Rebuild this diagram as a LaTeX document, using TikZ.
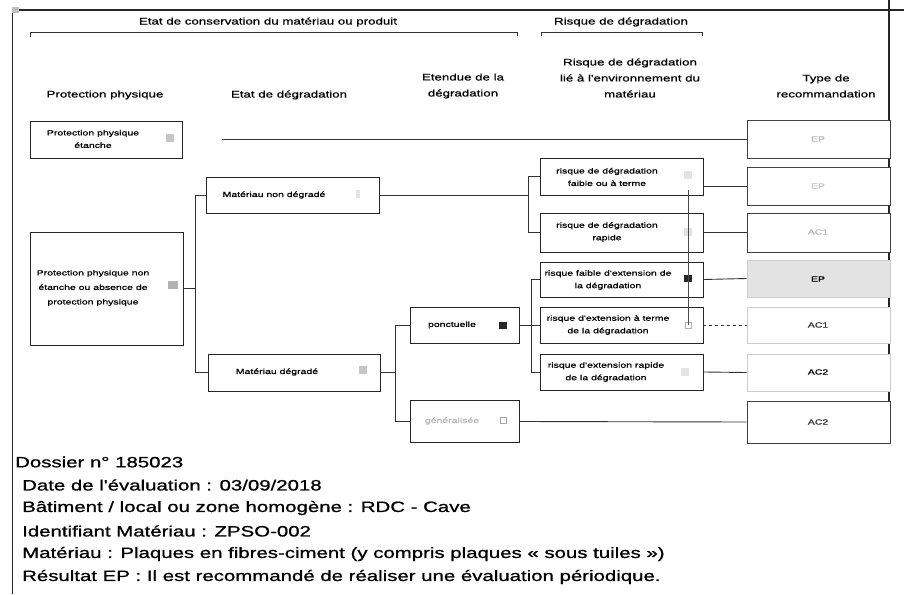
\documentclass[tikz,border=0pt]{standalone}
\usepackage{fontspec}
\setmainfont[FakeStretch=1.4]{Liberation Sans}
\newfontfamily\hfont[FakeStretch=1.4, FakeBold=0.7]{Liberation Sans}
\newfontfamily\ffont[FakeStretch=1.36, FakeBold=0.9]{Liberation Sans}
\begin{document}
\begin{tikzpicture}[x=1pt,y=-1pt,
  frame/.style={draw=black!85, line width=1.2pt},
  box/.style={draw=black!85, line width=0.9pt, inner sep=0pt, fill=white},
  recbox/.style={draw=black!75, line width=0.9pt, inner sep=0pt, fill=white, minimum width=143pt},
  txt/.style={font=\hfont\fontsize{7.5}{12.5}\selectfont, align=center, inner sep=0pt},
  rectxt/.style={font=\hfont\fontsize{7.5}{9}\selectfont, inner sep=0pt},
  hdr/.style={font=\hfont\fontsize{9.5}{16}\selectfont, align=center, inner sep=0pt},
  foot/.style={font=\ffont\fontsize{15}{18}\selectfont, anchor=west, inner sep=0pt},
  conn/.style={draw=black!80, line width=0.9pt},
  chkgrey/.style={fill=gray!45, minimum width=8pt, minimum height=8pt, inner sep=0pt},
  chklight/.style={fill=gray!22, minimum width=8pt, minimum height=8pt, inner sep=0pt},
  chkblack/.style={fill=black!85, minimum width=8pt, minimum height=7pt, inner sep=0pt},
  chkopen/.style={draw=gray!70, line width=0.7pt, minimum width=6pt, minimum height=6pt, inner sep=0pt}
]
\useasboundingbox (0,0) rectangle (904,594);
\fill[white] (0,0) rectangle (904,594);

% frame
\draw[frame] (12.5,12) -- (12.5,594);
\draw[frame] (13,10) -- (904,10);
\draw[frame] (889,0) -- (889,444);
\fill[gray!50] (12,7) rectangle (19,13);

% group headers
\node[hdr] (hcons) at (268,22) {Etat de conservation du matériau ou produit};
\node[hdr] (hrisk) at (621,22) {Risque de dégradation};
\draw[draw=black!80, line width=0.9pt] (30,37) -- (30,32) -- (517,32) -- (517,36);
\draw[draw=black!80, line width=0.9pt] (541,36) -- (541,32) -- (702,32) -- (702,36);

% column headers
\node[hdr] (c1) at (105,95) {Protection physique};
\node[hdr] (c2) at (289,95) {Etat de dégradation};
\node[hdr] (c3) at (463,86) {Etendue de la\\dégradation};
\node[hdr] (c4) at (630,78) {Risque de dégradation\\lié à l'environnement du\\matériau};
\node[hdr] (c5) at (826,86) {Type de\\recommandation};

% column 1
\node[box, minimum width=152pt, minimum height=37pt] (etanche) at (106,139.5) {};
\node[txt] (etanche-t) at (93,139) {Protection physique\\étanche};
\node[chkgrey] (etanche-m) at (170,138) {};

\node[box, minimum width=153pt, minimum height=113pt] (nonet) at (106.5,288.5) {};
\node[txt, font=\hfont\fontsize{7.5}{14.5}\selectfont] (nonet-t) at (93,288) {Protection physique non\\étanche ou absence de\\protection physique};
\node[fill=gray!60, minimum width=10pt, minimum height=8pt, inner sep=0pt] (nonet-m) at (173,285) {};

% column 2
\node[box, minimum width=173pt, minimum height=36pt] (nondeg) at (292.5,195) {};
\node[txt] (nondeg-t) at (274,195) {Matériau non dégradé};
\node[chklight, minimum width=4pt] (nondeg-m) at (358,194) {};

\node[box, minimum width=172pt, minimum height=37pt] (deg) at (294,372.5) {};
\node[txt] (deg-t) at (277,372) {Matériau dégradé};
\node[chkgrey] (deg-m) at (363,370) {};

% column 3
\node[box, minimum width=109pt, minimum height=36pt] (ponct) at (464.5,325) {};
\node[txt] (ponct-t) at (452,325) {ponctuelle};
\node[chkblack] (ponct-m) at (503,325) {};

\node[box, minimum width=109pt, minimum height=42pt] (gen) at (464.5,421.5) {};
\node[txt, text=gray!55] (gen-t) at (452,421) {généralisée};
\node[chkopen] (gen-m) at (503,420) {};

% column 4
\node[box, minimum width=163pt, minimum height=37pt] (rf) at (621.5,176.5) {};
\node[txt] (rf-t) at (607,177) {risque de dégradation\\faible ou à terme};
\node[chklight] (rf-m) at (688,175) {};

\node[box, minimum width=163pt, minimum height=39pt] (rr) at (621.5,232.5) {};
\node[txt] (rr-t) at (607,232) {risque de dégradation\\rapide};
\node[chklight] (rr-m) at (688,232) {};

\node[box, minimum width=163pt, minimum height=35pt] (ef) at (621.5,279.5) {};
\node[txt] (ef-t) at (608,280) {risque faible d'extension de\\la dégradation};
\node[chkblack] (ef-m) at (688,278) {};

\node[box, minimum width=163pt, minimum height=36pt] (et) at (621.5,325) {};
\node[txt] (et-t) at (608,325) {risque d'extension à terme\\de la dégradation};
\node[chkopen, draw=gray!60] (et-m) at (688,325) {};

\node[box, minimum width=163pt, minimum height=36pt] (er) at (622,372) {};
\node[txt] (er-t) at (606,372) {risque d'extension rapide\\de la dégradation};
\node[chklight] (er-m) at (685,372) {};

% recommendation column
\node[recbox, minimum height=38pt] (r1) at (818.5,139) {};
\node[rectxt, text=gray!55] (r1-t) at (818,139) {EP};
\node[recbox, minimum height=38pt] (r2) at (818.5,186) {};
\node[rectxt, text=gray!45] (r2-t) at (818,186) {EP};
\node[recbox, minimum height=39pt] (r3) at (818.5,232.5) {};
\node[rectxt, text=gray!55] (r3-t) at (818,232) {AC1};
\node[recbox, minimum height=37pt, fill=gray!22, draw=gray!40] (r4) at (818.5,278.5) {};
\node[rectxt] (r4-t) at (818,279) {EP};
\node[recbox, minimum height=36pt, draw=gray!40] (r5) at (818.5,325) {};
\node[rectxt, text=black!80] (r5-t) at (818,325) {AC1};
\node[recbox, minimum height=37pt, draw=gray!40] (r6) at (818.5,372.5) {};
\node[rectxt] (r6-t) at (818,372) {AC2};
\node[recbox, minimum height=42pt] (r7) at (818.5,422) {};
\node[rectxt, text=black!80] (r7-t) at (818,422) {AC2};

% fork points
\coordinate (f1) at (195,288);
\coordinate (f2) at (528,195);
\coordinate (f3) at (395,372.5);
\coordinate (f4) at (531,325);

% connectors
\draw[conn, shorten <=40pt] (etanche.east |- r1.west) -- (r1.west);
\draw[conn] (nonet.east |- f1) -- (f1);
\draw[conn] (nondeg.west) -- (nondeg.west -| f1) -- (deg.west -| f1) -- (deg.west);

\draw[conn] (nondeg.east) -- (f2);
\draw[conn] (rf.west) -- (rf.west -| f2) -- (rr.west -| f2) -- (rr.west);

\draw[conn] (deg.east) -- (f3);
\draw[conn] (ponct.west) -- (ponct.west -| f3) -- (gen.west -| f3) -- (gen.west);

\draw[conn] (ponct.east) -- (et.west);
\draw[conn] (ef.west) -- (ef.west -| f4) -- (er.west -| f4) -- (er.west);

\draw[conn] (rf.east |- r2.west) -- (r2.west);
\draw[conn] (rr.east) -- (r3.west);
\draw[conn] (ef.east) -- (r4.west);
\draw[conn, dashed] (et.east) -- (r5.west);
\draw[conn] (er.east) -- (r6.west);
\draw[conn] (gen.east) -- (r7.west);
\draw[draw=black!70, line width=0.6pt] ([yshift=-15pt]rf-m.center) -- (et-m.center);

% footer
\node[foot] (f-dos) at (15,462) {Dossier n° 185023};
\node[foot] (f-date) at (22,485) {Date de l'évaluation : 03/09/2018};
\node[foot] (f-bat) at (22,508) {Bâtiment / local ou zone homogène : RDC - Cave};
\node[foot] (f-id) at (22,531) {Identifiant Matériau : ZPSO-002};
\node[foot] (f-mat) at (22,554) {Matériau : Plaques en fibres-ciment (y compris plaques « sous tuiles »)};
\node[foot] (f-res) at (22,577) {Résultat EP : Il est recommandé de réaliser une évaluation périodique.};
\end{tikzpicture}
\end{document}
